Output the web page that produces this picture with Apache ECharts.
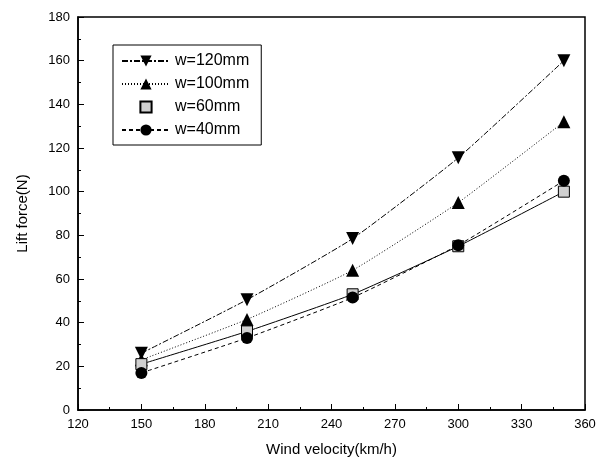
<!DOCTYPE html>
<html>
<head>
<meta charset="utf-8">
<script src="https://cdn.jsdelivr.net/npm/echarts@6/dist/echarts.min.js"></script>
<style>
	html, body { margin: 0; padding: 0; background: #fff; }
	#chart { width: 607px; height: 464px; }
</style>
</head>
<body>
<div id="chart"></div>
<script>
	// 风速 (km/h)
	const velocity = [150, 200, 250, 300, 350];
	// 升力 (N)，按宽度分组
	const w120 = [26, 50.5, 78.5, 115.5, 160];
	const w100 = [23, 41.5, 64, 95, 132];
	const w60 = [21, 36, 53, 75, 100];
	const w40 = [17, 33, 51.5, 75.5, 105];
	const names = ['w=120mm', 'w=100mm', 'w=60mm', 'w=40mm'];

	const pairs = (ys) => velocity.map((x, i) => [x, ys[i]]);
	const font = 'Liberation Sans, Arial, sans-serif';

	const chart = echarts.init(document.getElementById('chart'));
	const option = {
		animation: false,
		backgroundColor: '#fff',
		grid: {
			left: 78,
			right: 22,
			top: 17,
			bottom: 54,
			show: true,
			borderColor: '#000',
			borderWidth: 1.5
		},
		legend: {
			orient: 'vertical',
			left: 113,
			top: 45,
			padding: [8, 12, 7, 8],
			itemGap: 7,
			itemWidth: 48,
			itemHeight: 14,
			borderColor: '#000',
			borderWidth: 1,
			symbolRotate: 'inherit',
			textStyle: {
				fontFamily: font,
				fontSize: 16,
				color: '#000'
			},
			data: [
				{ name: names[0] },
				{ name: names[1] },
				{ name: names[2], lineStyle: { opacity: 0 } },
				{ name: names[3] }
			]
		},
		xAxis: {
			type: 'value',
			min: 120,
			max: 360,
			interval: 30,
			name: 'Wind velocity(km/h)',
			nameLocation: 'middle',
			nameGap: 32,
			nameTextStyle: { fontFamily: font, fontSize: 15, color: '#000' },
			axisLine: { lineStyle: { color: '#000', width: 1.5 } },
			axisTick: { inside: true, length: 6, lineStyle: { color: '#000' } },
			minorTick: { show: true, splitNumber: 2, length: 3, lineStyle: { color: '#000' } },
			axisLabel: { fontFamily: font, fontSize: 13, color: '#000', margin: 8 },
			splitLine: { show: false }
		},
		yAxis: {
			type: 'value',
			min: 0,
			max: 180,
			interval: 20,
			name: 'Lift force(N)',
			nameLocation: 'middle',
			nameGap: 48,
			nameTextStyle: { fontFamily: font, fontSize: 15, color: '#000' },
			axisLine: { show: true, lineStyle: { color: '#000', width: 1.5 } },
			axisTick: { show: true, inside: true, length: 6, lineStyle: { color: '#000' } },
			minorTick: { show: true, splitNumber: 2, length: 3, lineStyle: { color: '#000' } },
			axisLabel: { fontFamily: font, fontSize: 13, color: '#000', margin: 8 },
			splitLine: { show: false }
		},
		series: [{
				name: names[0],
				type: 'line',
				smooth: 0.15,
				data: pairs(w120),
				symbol: 'triangle',
				symbolRotate: 180,
				symbolSize: 13,
				itemStyle: { color: '#000' },
				lineStyle: { color: '#000', width: 1, type: [6, 2, 2, 2] }
			},
			{
				name: names[1],
				type: 'line',
				smooth: 0.15,
				data: pairs(w100),
				symbol: 'triangle',
				symbolSize: 13,
				itemStyle: { color: '#000' },
				lineStyle: { color: '#000', width: 1, type: [1, 2] }
			},
			{
				name: names[2],
				type: 'line',
				smooth: 0.15,
				data: pairs(w60),
				symbol: 'rect',
				symbolSize: 11,
				itemStyle: { color: '#d0d0d0', borderColor: '#000', borderWidth: 1 },
				lineStyle: { color: '#000', width: 1, type: 'solid' }
			},
			{
				name: names[3],
				type: 'line',
				smooth: 0.15,
				data: pairs(w40),
				symbol: 'circle',
				symbolSize: 12,
				itemStyle: { color: '#000' },
				lineStyle: { color: '#000', width: 1, type: [4, 3] }
			}
		]
	};
	chart.setOption(option);
</script>
</body>
</html>
